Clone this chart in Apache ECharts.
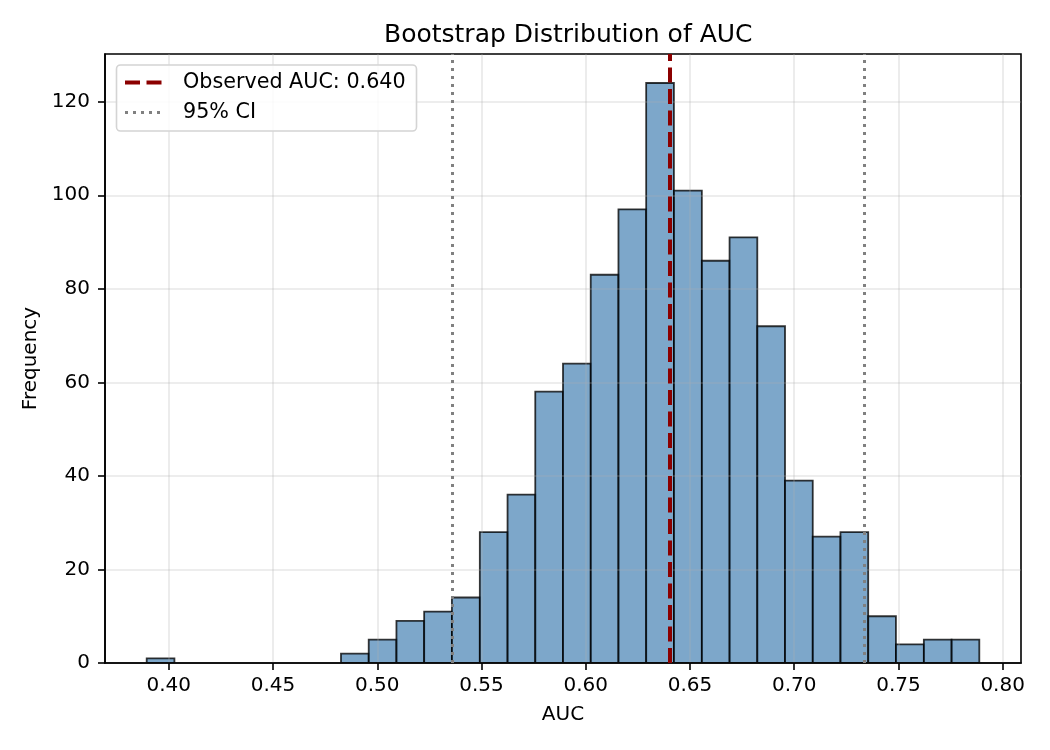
<!DOCTYPE html>
<html>
<head>
<meta charset="utf-8">
<script src="https://cdn.jsdelivr.net/npm/echarts@6/dist/echarts.min.js"></script>
<style>html,body{margin:0;padding:0;background:#fff;}#chart{width:1050px;height:750px;}</style>
</head>
<body>
<div id="chart"></div>
<script>
// Histogram bin edges (31 edges -> 30 bins)
const binEdges = [0.3894, 0.4027, 0.4160, 0.4293, 0.4427, 0.4560, 0.4693, 0.4826, 0.4959, 0.5092,
  0.5225, 0.5358, 0.5492, 0.5625, 0.5758, 0.5891, 0.6024, 0.6157, 0.6290, 0.6423,
  0.6557, 0.6690, 0.6823, 0.6956, 0.7089, 0.7222, 0.7355, 0.7488, 0.7622, 0.7755, 0.7888];
// Counts per bin
const counts = [1, 0, 0, 0, 0, 0, 0, 2, 5, 9, 11, 14, 28, 36, 58, 64, 83, 97, 124, 101, 86, 91, 72, 39, 27, 28, 10, 4, 5, 5];
const observedAUC = 0.6405;
const ciBounds = [0.5359, 0.7335];
const xTicks = [0.40, 0.45, 0.50, 0.55, 0.60, 0.65, 0.70, 0.75, 0.80];
const yTicks = [0, 20, 40, 60, 80, 100, 120];
const xRange = [0.3694, 0.8088];
const yRange = [0, 130.2];

const histData = counts.map((c, i) => [binEdges[i], binEdges[i + 1], c]);
const FONT = 'DejaVu Sans';

const chart = echarts.init(document.getElementById('chart'), null, {renderer: 'canvas'});
const option = {
  animation: false,
  backgroundColor: '#fff',
  title: {
    text: 'Bootstrap Distribution of AUC',
    left: 379, top: 18,
    textStyle: {fontFamily: FONT, fontSize: 25, fontWeight: 'normal', color: '#000'}
  },
  grid: {
    left: 105, right: 29, top: 54, bottom: 87,
    show: true, borderColor: '#000', borderWidth: 1.6, backgroundColor: 'transparent',
    outerBoundsMode: 'none'
  },
  xAxis: {
    type: 'value', min: xRange[0], max: xRange[1],
    name: 'AUC', nameLocation: 'middle', nameGap: 42,
    nameTextStyle: {fontFamily: FONT, fontSize: 20, color: '#000'},
    axisLine: {show: true, lineStyle: {color: '#000', width: 1.6}},
    axisTick: {show: true, customValues: xTicks, length: 7, lineStyle: {color: '#000', width: 1.6}},
    axisLabel: {customValues: xTicks, fontFamily: FONT, fontSize: 20, color: '#000', margin: 13,
      formatter: v => v.toFixed(2)},
    splitLine: {show: true, lineStyle: {color: 'rgba(176,176,176,0.3)', width: 1.6}}
  },
  yAxis: {
    type: 'value', min: yRange[0], max: yRange[1],
    name: 'Frequency', nameLocation: 'middle', nameGap: 59,
    nameTextStyle: {fontFamily: FONT, fontSize: 20, color: '#000'},
    axisLine: {show: true, lineStyle: {color: '#000', width: 1.6}},
    axisTick: {show: true, customValues: yTicks, length: 7, lineStyle: {color: '#000', width: 1.6}},
    axisLabel: {customValues: yTicks, fontFamily: FONT, fontSize: 20, color: '#000', margin: 15},
    splitLine: {show: true, lineStyle: {color: 'rgba(176,176,176,0.3)', width: 1.6}}
  },
  series: [
    {
      type: 'custom',
      z: -1,
      data: histData,
      encode: {x: [0, 1], y: 2},
      clip: true,
      renderItem: function (params, api) {
        const p0 = api.coord([api.value(0), api.value(2)]);
        const p1 = api.coord([api.value(1), 0]);
        if (api.value(2) <= 0) return null;
        return {
          type: 'rect',
          shape: {x: p0[0], y: p0[1], width: p1[0] - p0[0], height: p1[1] - p0[1]},
          style: {fill: 'rgba(70,130,180,0.7)', stroke: 'rgba(0,0,0,0.78)', lineWidth: 1.8}
        };
      }
    },
    {
      type: 'line', data: [], z: 5,
      markLine: {
        silent: true, symbol: 'none', animation: false, precision: 6,
        label: {show: false},
        data: [
          {xAxis: observedAUC, lineStyle: {color: '#8b0000', width: 4, type: [15, 6.5]}},
          {xAxis: ciBounds[0], lineStyle: {color: 'rgba(128,128,128,1)', width: 3, type: [3, 5]}},
          {xAxis: ciBounds[1], lineStyle: {color: 'rgba(128,128,128,1)', width: 3, type: [3, 5]}}
        ]
      }
    }
  ],
  graphic: [
    {type: 'rect', z: 100, shape: {x: 116.5, y: 65, width: 300, height: 66, r: 4},
      style: {fill: 'rgba(255,255,255,0.85)', stroke: '#d4d4d4', lineWidth: 1.6}},
    {type: 'line', z: 101, shape: {x1: 125, y1: 82.5, x2: 164, y2: 82.5},
      style: {stroke: '#8b0000', lineWidth: 4, lineDash: [15, 6.5]}},
    {type: 'line', z: 101, shape: {x1: 125, y1: 112.5, x2: 164, y2: 112.5},
      style: {stroke: '#808080', lineWidth: 3, lineDash: [3, 5]}},
    {type: 'text', z: 101, x: 183, y: 83,
      style: {text: 'Observed AUC: 0.640', font: '20.7px "DejaVu Sans"', fill: '#000', verticalAlign: 'middle'}},
    {type: 'text', z: 101, x: 183, y: 113,
      style: {text: '95% CI', font: '20.7px "DejaVu Sans"', fill: '#000', verticalAlign: 'middle'}}
  ]
};
chart.setOption(option);
</script>
</body>
</html>
